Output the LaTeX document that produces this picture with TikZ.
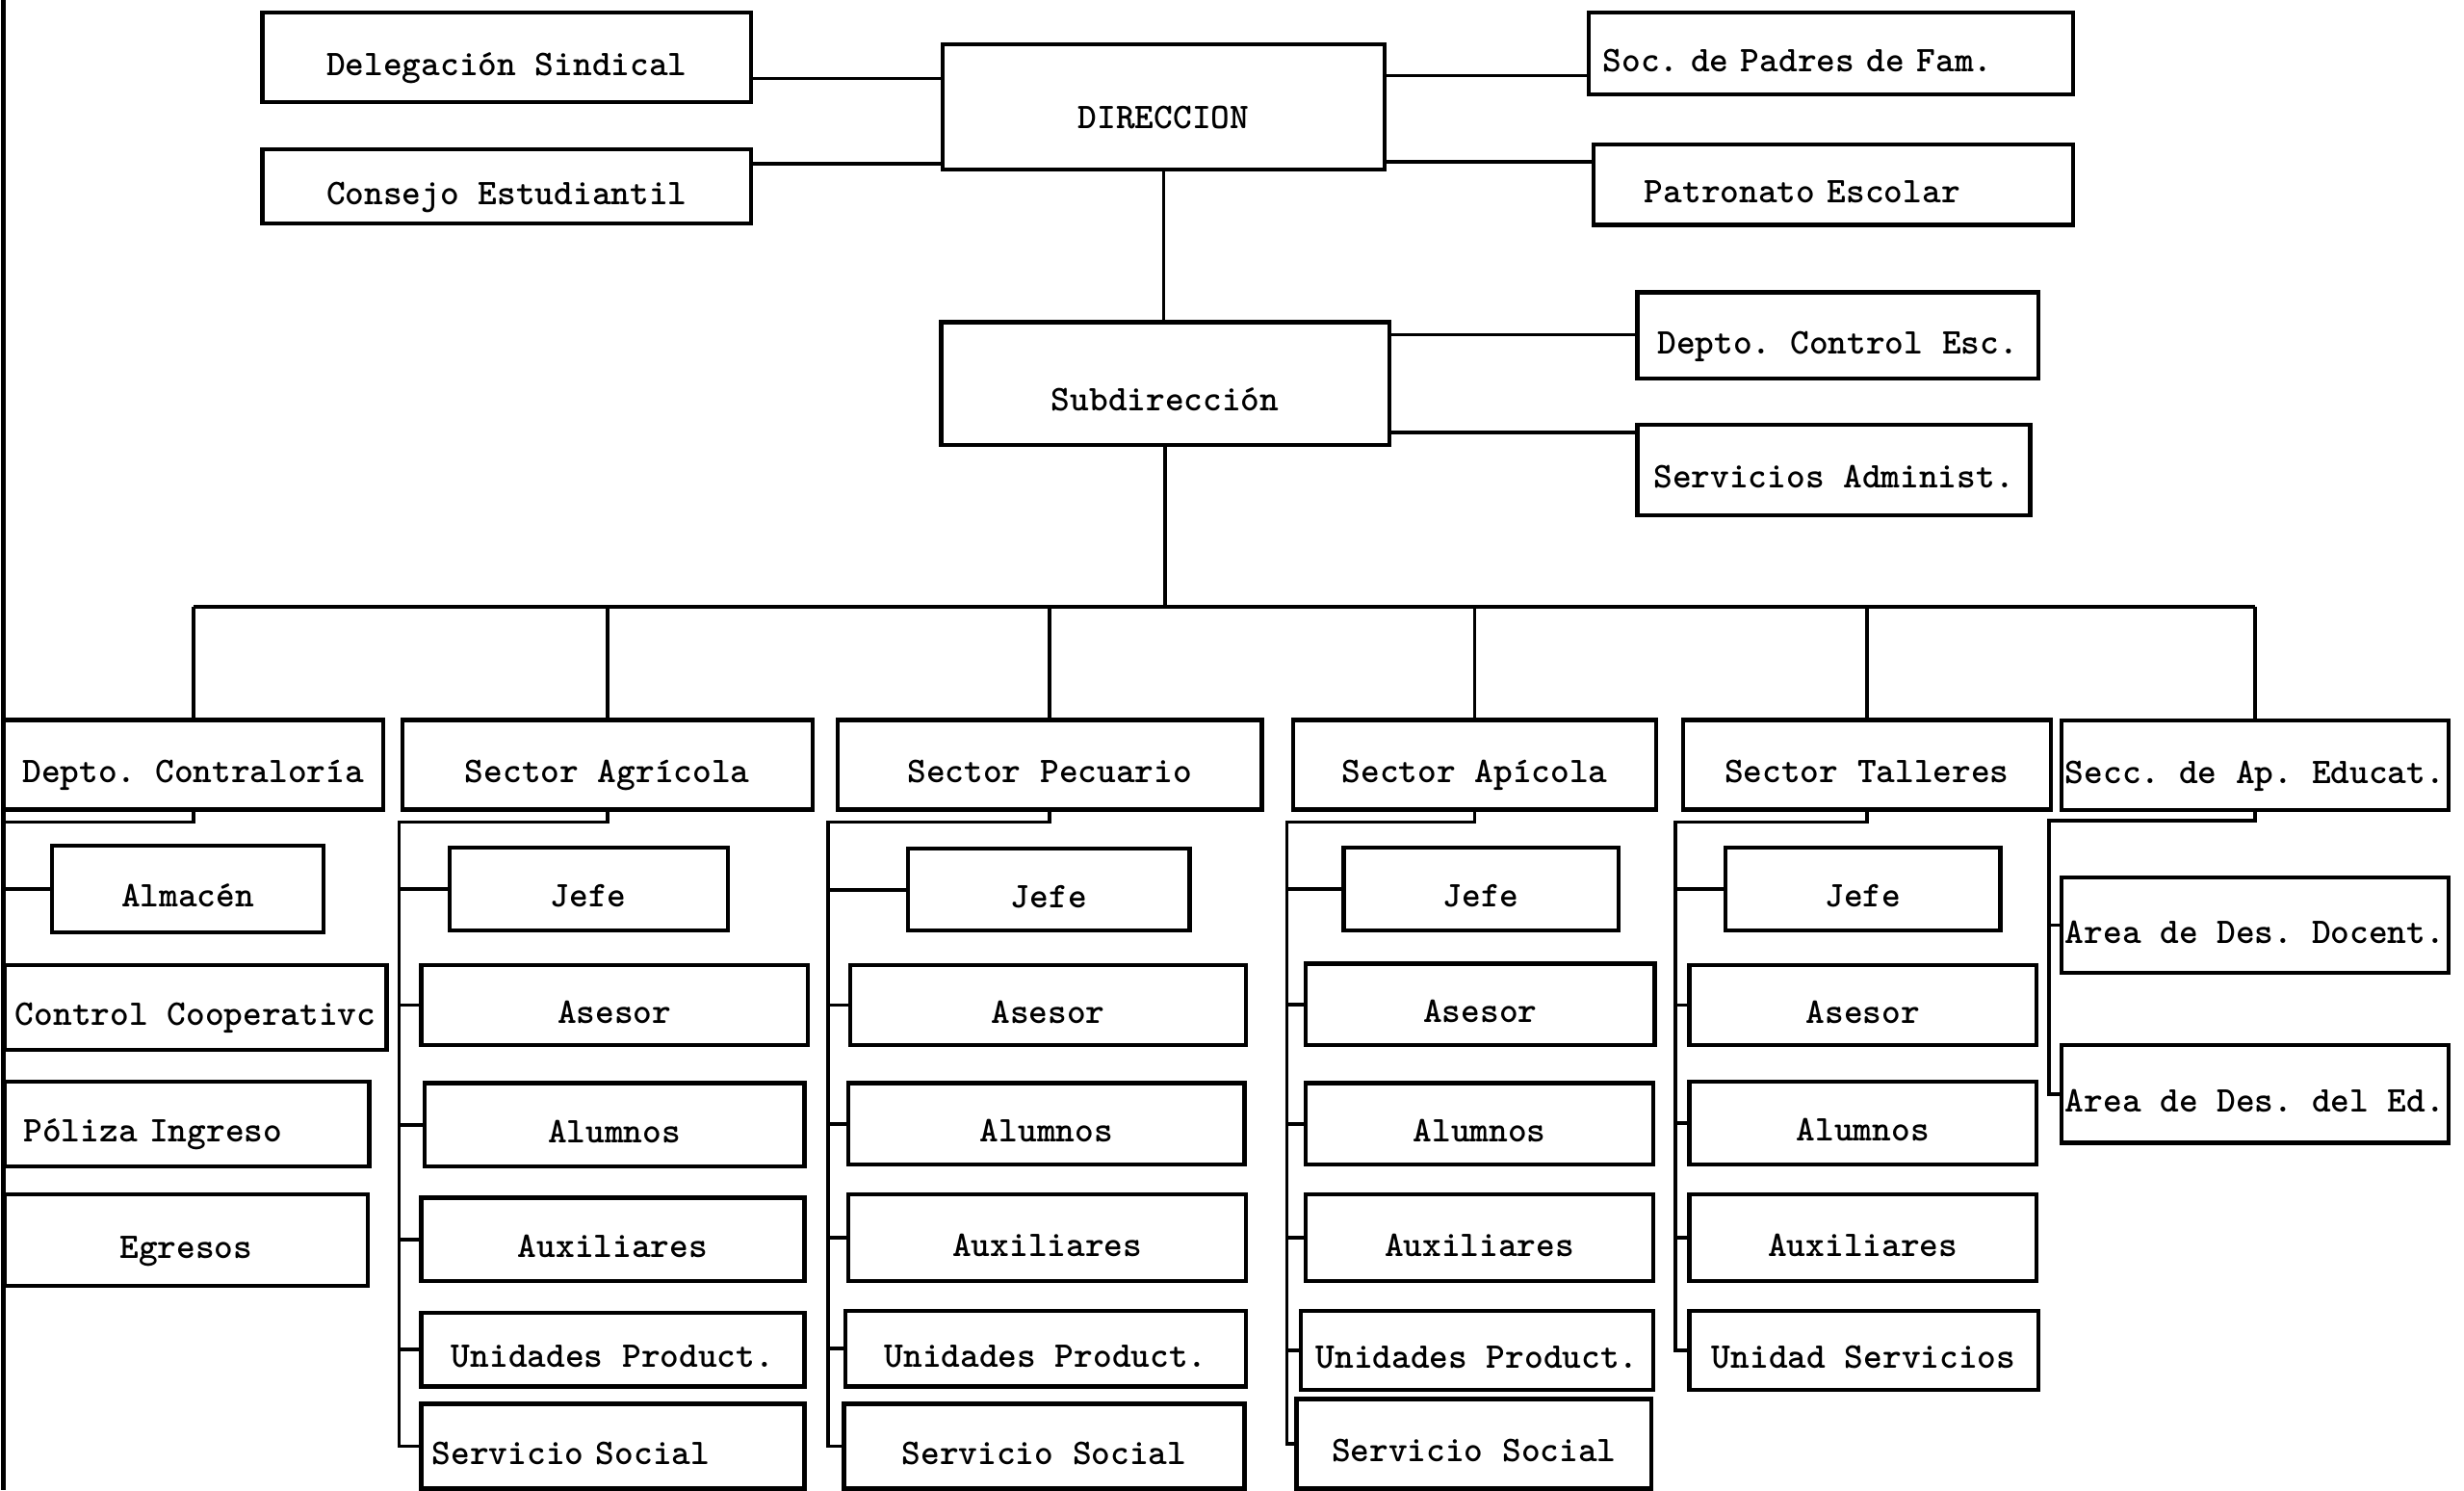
\documentclass[tikz,border=0pt]{standalone}
\usetikzlibrary{positioning}
\tikzset{
  caja/.style={draw, rectangle, line width=2.6pt, inner sep=0pt, text height=28pt, text depth=5pt,
    font=\ttfamily\bfseries\fontsize{23}{27}\selectfont},
  izq/.style={align=left, text width=#1},
  linea/.style={line width=2.2pt}
}
\frenchspacing

\begin{document}
\begin{tikzpicture}[x=1pt, y=-1pt]
  \useasboundingbox (0,0) rectangle (1568,948);

  % direccion y organos de apoyo
  \node[caja, minimum width=281, minimum height=80, text height=32pt] (dir) at (740.5,68) {DIRECCION};
  \node[caja, minimum width=311, minimum height=57] (deleg) at (322.5,36.5) {Delegación Sindical};
  \node[caja, minimum width=311, minimum height=47] (consejo) at (322.5,118.5) {Consejo Estudiantil};
  \node[caja, izq=290pt, minimum width=308, minimum height=52] (soc) at (1165,34) {Soc. de Padres de Fam.};
  \node[caja, izq=240pt, minimum width=305, minimum height=51] (patro) at (1166.5,117.5) {Patronato Escolar};

  \draw[linea] (deleg.east |- 0,50) -- (dir.west |- 0,50);
  \draw[linea] (consejo.east |- 0,104) -- (dir.west |- 0,104);
  \draw[linea] (dir.east |- 0,48) -- (soc.west |- 0,48);
  \draw[linea] (dir.east |- 0,103) -- (patro.west |- 0,103);

  % subdireccion
  \node[caja, minimum width=285, minimum height=78, text height=40pt] (sub) at (741.5,244) {Subdirección};
  \node[caja, minimum width=255, minimum height=55] (ctrl) at (1169.5,213.5) {Depto. Control Esc.};
  \node[caja, minimum width=250, minimum height=58] (serv) at (1167,299) {Servicios Administ.};

  \draw[line width=1.6pt] (dir.south) -- (dir.south |- sub.north);
  \draw[linea] (sub.east |- 0,213) -- (ctrl.west |- 0,213);
  \draw[linea] (sub.east |- 0,275) -- (serv.west |- 0,275);

  % sectores
  \node[caja, minimum width=242, minimum height=57] (contr) at (123,486.5) {Depto. Contraloría};
  \node[caja, minimum width=261, minimum height=57] (agr) at (386.5,486.5) {Sector Agrícola};
  \node[caja, minimum width=270, minimum height=57] (pec) at (668,486.5) {Sector Pecuario};
  \node[caja, minimum width=231, minimum height=57] (api) at (938.5,486.5) {Sector Apícola};
  \node[caja, minimum width=234, minimum height=57] (tal) at (1188,486.5) {Sector Talleres};
  \node[caja, minimum width=246, minimum height=57] (secc) at (1435,487) {Secc. de Ap. Educat.};

  \coordinate (bus) at (741.5,386);
  \draw[linea] (sub.south) -- (bus);
  \draw[linea] (contr.north |- bus) -- (secc.north |- bus);
  \foreach \s in {contr,agr,pec,api,tal,secc}
    \draw[linea] (\s.north |- bus) -- (\s.north);

  % contraloria
  \node[caja, minimum width=173, minimum height=55] (alm) at (119.5,565.5) {Almacén};
  \node[caja, minimum width=243, minimum height=54] (coop) at (124.5,641) {Control Cooperativc};
  \node[caja, izq=208pt, minimum width=232, minimum height=54] (pol) at (119,715) {Póliza Ingreso};
  \node[caja, minimum width=231, minimum height=58] (egr) at (118.5,789) {Egresos};

  \coordinate (izqarriba) at (2,0);
  \coordinate (izqabajo) at (2,948);
  \coordinate (tcon) at (2,523);
  \draw[line width=2.8pt] (izqarriba) -- (izqabajo);
  \draw[linea] (contr.south) |- (tcon);
  \draw[linea] (alm.west) -- (alm.west -| tcon);

  % sector agricola
  \node[caja, minimum width=177, minimum height=53] (ajefe) at (374.5,565.5) {Jefe};
  \node[caja, minimum width=246, minimum height=51] (aases) at (391,639.5) {Asesor};
  \node[caja, minimum width=242, minimum height=53] (aalum) at (391,715.5) {Alumnos};
  \node[caja, minimum width=244, minimum height=53] (aaux) at (390,788.5) {Auxiliares};
  \node[caja, minimum width=244, minimum height=47] (auni) at (390,858.5) {Unidades Product.};
  \node[caja, izq=230pt, minimum width=244, minimum height=54] (asoc) at (390,920) {Servicio Social};

  \coordinate (tagr) at (254,523);
  \draw[linea] (agr.south) |- (tagr) |- (asoc.west);
  \foreach \n in {ajefe,aases,aalum,aaux,auni}
    \draw[linea] (\n.west) -- (\n.west -| tagr);

  % sector pecuario
  \node[caja, minimum width=179, minimum height=52] (pjefe) at (667.5,566) {Jefe};
  \node[caja, minimum width=252, minimum height=51] (pases) at (667,639.5) {Asesor};
  \node[caja, minimum width=252, minimum height=52] (palum) at (666,715) {Alumnos};
  \node[caja, minimum width=253, minimum height=55] (paux) at (666.5,787.5) {Auxiliares};
  \node[caja, minimum width=255, minimum height=48] (puni) at (665.5,858) {Unidades Product.};
  \node[caja, minimum width=255, minimum height=54] (psoc) at (664.5,920) {Servicio Social};

  \coordinate (tpec) at (527,523);
  \draw[linea] (pec.south) |- (tpec) |- (psoc.west);
  \foreach \n in {pjefe,pases,palum,paux,puni}
    \draw[linea] (\n.west) -- (\n.west -| tpec);

  % sector apicola
  \node[caja, minimum width=175, minimum height=53] (xjefe) at (942.5,565.5) {Jefe};
  \node[caja, minimum width=222, minimum height=52] (xases) at (942,639) {Asesor};
  \node[caja, minimum width=221, minimum height=52] (xalum) at (941.5,715) {Alumnos};
  \node[caja, minimum width=221, minimum height=55] (xaux) at (941.5,787.5) {Auxiliares};
  \node[caja, minimum width=224, minimum height=50] (xuni) at (940,859) {Unidades Product.};
  \node[caja, minimum width=226, minimum height=57] (xsoc) at (938,918.5) {Servicio Social};

  \coordinate (tapi) at (819,523);
  \draw[linea] (api.south) |- (tapi) |- (xsoc.west);
  \foreach \n in {xjefe,xases,xalum,xaux,xuni}
    \draw[linea] (\n.west) -- (\n.west -| tapi);

  % sector talleres
  \node[caja, minimum width=175, minimum height=53] (tjefe) at (1185.5,565.5) {Jefe};
  \node[caja, minimum width=221, minimum height=51] (tases) at (1185.5,639.5) {Asesor};
  \node[caja, minimum width=221, minimum height=53] (talum) at (1185.5,714.5) {Alumnos};
  \node[caja, minimum width=221, minimum height=55] (taux) at (1185.5,787.5) {Auxiliares};
  \node[caja, minimum width=222, minimum height=50] (tuni) at (1186,859) {Unidad Servicios};

  \coordinate (ttal) at (1066,523);
  \draw[linea] (tal.south) |- (ttal) |- (tuni.west);
  \foreach \n in {tjefe,tases,talum,taux}
    \draw[linea] (\n.west) -- (\n.west -| ttal);

  % seccion de apoyo educativo
  \node[caja, minimum width=246, minimum height=61] (ades) at (1435,588.5) {Area de Des. Docent.};
  \node[caja, minimum width=246, minimum height=62] (aded) at (1435,696) {Area de Des. del Ed.};

  \coordinate (tsec) at (1304,522);
  \draw[linea] (secc.south) |- (tsec) |- (aded.west);
  \draw[linea] (ades.west) -- (ades.west -| tsec);
\end{tikzpicture}
\end{document}
